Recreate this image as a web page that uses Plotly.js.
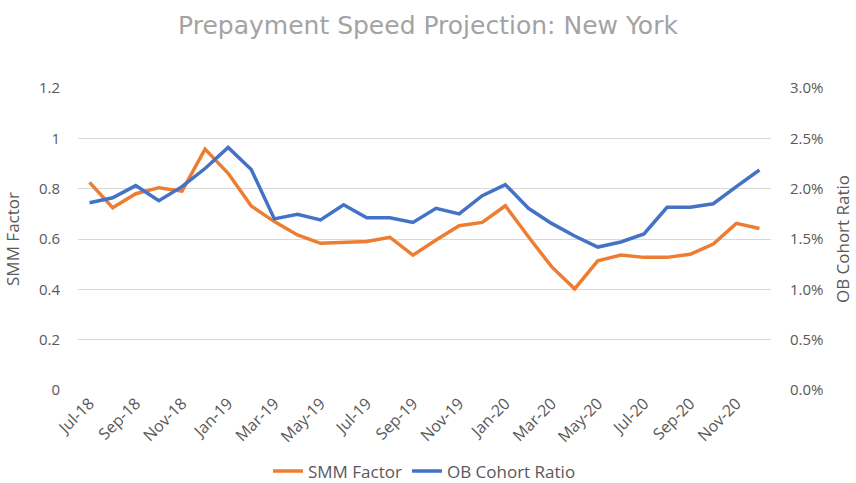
<!DOCTYPE html>
<html>
<head>
<meta charset="utf-8">
<script src="https://cdn.plot.ly/plotly-3.0.1.min.js"></script>
<style>html,body{margin:0;padding:0;background:#fff;}#chart{width:856px;height:483px;}</style>
</head>
<body>
<div id="chart"></div>
<script>
const months = ["Jul-18","Aug-18","Sep-18","Oct-18","Nov-18","Dec-18","Jan-19","Feb-19","Mar-19","Apr-19","May-19","Jun-19","Jul-19","Aug-19","Sep-19","Oct-19","Nov-19","Dec-19","Jan-20","Feb-20","Mar-20","Apr-20","May-20","Jun-20","Jul-20","Aug-20","Sep-20","Oct-20","Nov-20","Dec-20"];
const tickLabels = ["Jul-18","Sep-18","Nov-18","Jan-19","Mar-19","May-19","Jul-19","Sep-19","Nov-19","Jan-20","Mar-20","May-20","Jul-20","Sep-20","Nov-20"];
const smmFactor = [0.825,0.724,0.78,0.804,0.79,0.957,0.861,0.731,0.669,0.616,0.583,0.587,0.59,0.607,0.536,0.596,0.653,0.666,0.732,0.609,0.49,0.402,0.513,0.536,0.527,0.527,0.539,0.58,0.662,0.642];
const obCohortRatio = [0.0186,0.0191,0.0203,0.0188,0.0202,0.0220,0.0241,0.0219,0.0170,0.01745,0.0169,0.0184,0.0171,0.0171,0.01665,0.01805,0.0175,0.0193,0.0204,0.01805,0.01655,0.0153,0.0142,0.0147,0.0155,0.01815,0.01815,0.0185,0.0202,0.02185];

const baseFont = "Open Sans, Liberation Sans, sans-serif";
const tickFont = {family: baseFont, size: 15, color: "#595959"};
const traces = [
  {x: months, y: smmFactor, name: "SMM Factor", type: "scatter", mode: "lines",
   line: {color: "#ED7D31", width: 3.5}, yaxis: "y"},
  {x: months, y: obCohortRatio, name: "OB Cohort Ratio", type: "scatter", mode: "lines",
   line: {color: "#4472C4", width: 3.5}, yaxis: "y2"}
];
const layout = {
  width: 856, height: 483,
  margin: {l: 78, r: 85, t: 88, b: 93, autoexpand: false},
  paper_bgcolor: "#fff", plot_bgcolor: "#fff",
  showlegend: true,
  title: {text: "Prepayment Speed Projection: New York", x: 0.5, xanchor: "center", y: 0.948, yanchor: "middle",
          font: {family: "DejaVu Sans, sans-serif", size: 25, color: "#a3a3a3"}},
  xaxis: {type: "category", range: [-0.5, 29.5], tickmode: "array", tickvals: tickLabels, ticktext: tickLabels,
          tickangle: -45, tickfont: {family: baseFont, size: 16, color: "#595959"}, showgrid: false, zeroline: false, showline: false, ticks: "",
          automargin: false},
  yaxis: {range: [0, 1.2], dtick: 0.2, tick0: 0, tickfont: tickFont, showgrid: true, gridcolor: "#d9d9d9", gridwidth: 1,
          zeroline: false, ticks: "", ticklabelstandoff: 17, automargin: false,
          title: {text: "SMM Factor", font: {family: baseFont, size: 17, color: "#595959"}, standoff: 14}},
  yaxis2: {range: [0, 0.03], dtick: 0.005, tick0: 0, tickformat: ".1%", overlaying: "y", side: "right",
           tickfont: tickFont, showgrid: false, zeroline: false, ticks: "", ticklabelstandoff: 18, automargin: false,
           title: {text: "OB Cohort Ratio", font: {family: baseFont, size: 17, color: "#595959"}, standoff: 14}},
  legend: {orientation: "h", x: 0.5, xanchor: "center", y: -0.27, yanchor: "middle",
           font: {family: baseFont, size: 17, color: "#595959"}}
};
Plotly.newPlot("chart", traces, layout, {displayModeBar: false, staticPlot: true});
</script>
</body>
</html>
